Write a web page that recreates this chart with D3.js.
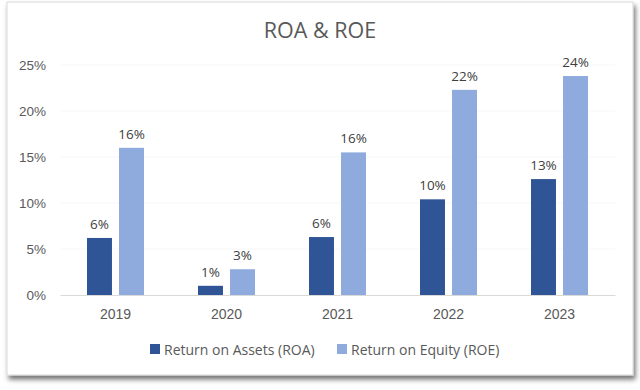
<!DOCTYPE html>
<html>
<head>
<meta charset="utf-8">
<script src="https://cdn.jsdelivr.net/npm/d3@7"></script>
<style>
  body { margin: 0; background: #ffffff; }
  svg { font-family: "Open Sans", "Noto Sans", sans-serif; }
</style>
</head>
<body>
<div id="chart"></div>
<script>
// Data
const years = ["2019", "2020", "2021", "2022", "2023"];
const roa = [6.2, 1.0, 6.3, 10.4, 12.6];
const roe = [16.0, 2.8, 15.5, 22.3, 23.8];
const roaLabels = ["6%", "1%", "6%", "10%", "13%"];
const roeLabels = ["16%", "3%", "16%", "22%", "24%"];
const yTicks = [0, 5, 10, 15, 20, 25];
const seriesNames = ["Return on Assets (ROA)", "Return on Equity (ROE)"];
const colors = ["#2F5597", "#8FAADC"];

const W = 640, H = 390;
const margin = { top: 65, right: 25, bottom: 95, left: 60 };
const width = W - margin.left - margin.right,
      height = H - margin.top - margin.bottom;

const svg = d3.select("#chart").append("svg")
    .attr("width", W)
    .attr("height", H);

// card with shadow
const defs = svg.append("defs");
const f = defs.append("filter").attr("id", "shadow")
    .attr("x", "-5%").attr("y", "-5%").attr("width", "110%").attr("height", "115%");
f.append("feDropShadow").attr("dx", 2).attr("dy", 4).attr("stdDeviation", 2.5)
    .attr("flood-color", "#000").attr("flood-opacity", 0.55);

svg.append("rect")
    .attr("x", 7).attr("y", 2)
    .attr("width", 626).attr("height", 373)
    .attr("fill", "#fff")
    .attr("stroke", "#d9d9d9")
    .attr("filter", "url(#shadow)");

const g = svg.append("g")
    .attr("transform", `translate(${margin.left},${margin.top})`);

// scales
const x = d3.scaleBand().domain(years).range([0, width]).paddingInner(0).paddingOuter(0);
const x1 = d3.scaleBand().domain([0, 1]).range([x.bandwidth() / 2 - 28.5, x.bandwidth() / 2 + 28.5]).paddingInner(0.22);
const y = d3.scaleLinear().domain([0, 25]).range([height, 0]);

// gridlines (very faint)
g.append("g")
  .selectAll("line").data(yTicks.slice(1)).join("line")
    .attr("x1", 0).attr("x2", width)
    .attr("y1", d => y(d)).attr("y2", d => y(d))
    .attr("stroke", "#f7f7f7");

// y axis labels
const yAxis = g.append("g")
    .call(d3.axisLeft(y).tickValues(yTicks).tickFormat(d => d + "%").tickSize(0).tickPadding(14));
yAxis.select(".domain").remove();
yAxis.selectAll("text").attr("fill", "#595959").style("font-size", "13.5px");

// bars
const series = [roa, roe];
const labels = [roaLabels, roeLabels];
series.forEach((vals, s) => {
  const grp = g.append("g");
  grp.selectAll("rect").data(years).join("rect")
      .attr("x", (d) => x(d) + x1(s))
      .attr("width", x1.bandwidth())
      .attr("y", (d, i) => y(vals[i]))
      .attr("height", (d, i) => height - y(vals[i]))
      .attr("fill", colors[s]);
  grp.selectAll("text").data(years).join("text")
      .attr("x", (d) => x(d) + x1(s) + x1.bandwidth() / 2)
      .attr("y", (d, i) => y(vals[i]) - 9)
      .attr("text-anchor", "middle")
      .attr("fill", "#404040")
      .style("font-size", "13.5px")
      .text((d, i) => labels[s][i]);
});

// x axis
const xAxis = g.append("g")
    .attr("transform", `translate(0,${height})`)
    .call(d3.axisBottom(x).tickSize(0).tickPadding(14));
xAxis.select(".domain").attr("stroke", "#d9d9d9");
xAxis.selectAll("text").attr("fill", "#595959").style("font-size", "14px");

// title
svg.append("text")
    .attr("x", 320).attr("y", 38)
    .attr("text-anchor", "middle")
    .attr("fill", "#595959")
    .style("font-size", "21.5px")
    .text("ROA & ROE");

// legend
const legendX = [150, 337];
seriesNames.forEach((name, s) => {
  const lg = svg.append("g").attr("transform", `translate(${legendX[s]},344)`);
  lg.append("rect").attr("width", 10).attr("height", 10).attr("fill", colors[s]);
  lg.append("text").attr("x", 14).attr("y", 10.5)
    .attr("fill", "#595959").style("font-size", "14px").text(name);
});
</script>
</body>
</html>
